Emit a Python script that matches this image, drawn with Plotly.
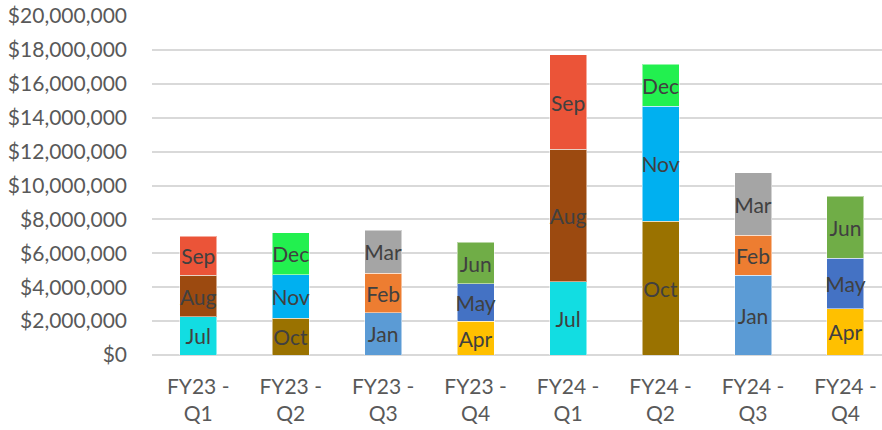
import plotly.graph_objects as go

quarters = ["FY23 -<br>Q1", "FY23 -<br>Q2", "FY23 -<br>Q3", "FY23 -<br>Q4",
            "FY24 -<br>Q1", "FY24 -<br>Q2", "FY24 -<br>Q3", "FY24 -<br>Q4"]

# Month names for the 1st, 2nd and 3rd month of each quarter
month1_names = ["Jul", "Oct", "Jan", "Apr", "Jul", "Oct", "Jan", "Apr"]
month2_names = ["Aug", "Nov", "Feb", "May", "Aug", "Nov", "Feb", "May"]
month3_names = ["Sep", "Dec", "Mar", "Jun", "Sep", "Dec", "Mar", "Jun"]

# Monthly amounts in dollars
month1_values = [2250000, 2170000, 2490000, 1990000, 4330000, 7880000, 4700000, 2740000]
month2_values = [2450000, 2560000, 2330000, 2210000, 7800000, 6800000, 2360000, 2960000]
month3_values = [2300000, 2490000, 2530000, 2450000, 5580000, 2480000, 3690000, 3680000]

month_colors = {
    "Jul": "#12DDE2", "Aug": "#9C4A10", "Sep": "#EB5438",
    "Oct": "#9A7200", "Nov": "#00B0F0", "Dec": "#22F04F",
    "Jan": "#5B9BD5", "Feb": "#ED7D31", "Mar": "#A5A5A5",
    "Apr": "#FFC000", "May": "#4472C4", "Jun": "#70AD47",
}

FONT = "Lato"
TEXT_COLOR = "#404040"
AXIS_COLOR = "#595959"
SIZE = 21

fig = go.Figure()
for names, values in [(month1_names, month1_values),
                      (month2_names, month2_values),
                      (month3_names, month3_values)]:
    fig.add_trace(go.Bar(
        x=list(range(len(quarters))),
        y=values,
        text=names,
        textposition="inside",
        insidetextanchor="middle",
        textangle=0,
        constraintext="none",
        textfont=dict(family=FONT, size=SIZE, color=TEXT_COLOR),
        marker=dict(color=[month_colors[n] for n in names],
                    line=dict(color="rgba(255,255,255,0.5)", width=1)),
        hovertemplate="%{text}: $%{y:,.0f}<extra></extra>",
        showlegend=False,
    ))

fig.update_layout(
    width=882, height=430,
    barmode="stack",
    bargap=0.6,
    plot_bgcolor="white",
    paper_bgcolor="white",
    margin=dict(l=152, r=0, t=16, b=75),
    uniformtext=dict(minsize=SIZE, mode="show"),
    font=dict(family=FONT, size=SIZE, color=AXIS_COLOR),
    xaxis=dict(
        tickmode="array",
        tickvals=list(range(len(quarters))),
        ticktext=quarters,
        range=[-0.5, 7.395],
        showgrid=False,
        showline=False,
        zeroline=False,
        ticks="",
        ticklabelstandoff=17,
        tickfont=dict(family=FONT, size=SIZE, color=AXIS_COLOR),
    ),
    yaxis=dict(
        range=[0, 20000000],
        dtick=2000000,
        tickformat="$,.0f",
        showgrid=True,
        gridcolor="#D9D9D9",
        gridwidth=2,
        zeroline=True,
        zerolinecolor="#D9D9D9",
        zerolinewidth=2,
        ticks="",
        ticklabelstandoff=24,
        tickfont=dict(family=FONT, size=SIZE, color=AXIS_COLOR),
    ),
)

fig.write_html("out.html")
